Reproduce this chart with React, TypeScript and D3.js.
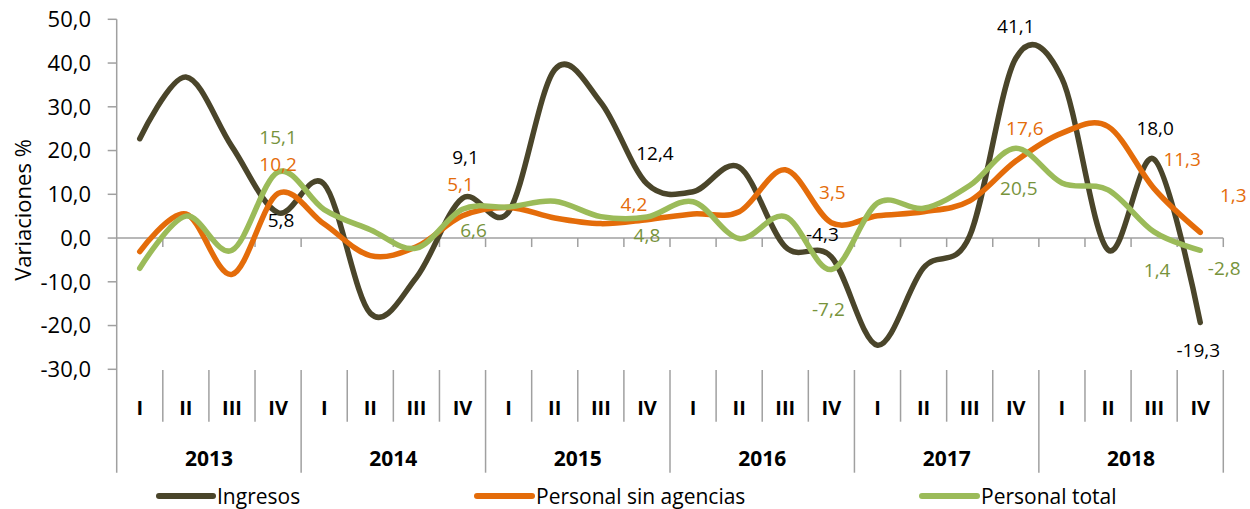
import React from "react";
import * as d3 from "d3";

const years = ["2013", "2014", "2015", "2016", "2017", "2018"];
const quarters = ["I", "II", "III", "IV"];
const yTicks = [-30, -20, -10, 0, 10, 20, 30, 40, 50];

const ingresos = [22.7, 36.8, 20.9, 5.8, 12.3, -17.2, -9.0, 9.1, 6.0, 38.5, 31.0, 12.4, 10.6, 16.2, -2.0, -4.3, -24.5, -6.8, 0.5, 41.1, 36.5, -2.7, 18.0, -19.3];
const personalSinAgencias = [-3.1, 5.5, -8.3, 10.2, 3.2, -4.0, -2.0, 5.1, 7.0, 4.6, 3.3, 4.2, 5.5, 6.0, 15.6, 3.5, 5.1, 6.0, 8.5, 17.6, 24.0, 25.5, 11.3, 1.3];
const personalTotal = [-6.9, 5.0, -2.8, 15.1, 6.5, 1.9, -2.3, 6.6, 7.1, 8.4, 4.9, 4.8, 8.3, -0.1, 4.9, -7.2, 8.0, 6.8, 12.0, 20.5, 12.6, 11.0, 1.4, -2.8];

const labeledIdx = [3, 7, 11, 15, 19, 22, 23];

// label offsets (px) from each labelled point, per series
const ingresosLabelOffsets = [[3, 7], [3, -41], [8, -31], [-9, -23], [0, -32], [1, -31], [-2, 28]];
const sinLabelOffsets = [[0, -29], [-2, -32], [-13, -16], [1, -31], [9, -33], [28, -29], [33, -37]];
const totalLabelOffsets = [[0, -35], [11, 21], [0, 18], [-3, 40], [3, 40], [3, 38], [24, 18]];

const series = [
  { name: "Ingresos", values: ingresos, color: "#4a452a", labelColor: "#000000", offsets: ingresosLabelOffsets },
  { name: "Personal sin agencias", values: personalSinAgencias, color: "#e46c0a", labelColor: "#e46c0a", offsets: sinLabelOffsets },
  { name: "Personal total", values: personalTotal, color: "#9bbb59", labelColor: "#77933c", offsets: totalLabelOffsets },
];

const legendPos = [
  { x1: 159, x2: 213 },
  { x1: 477, x2: 532 },
  { x1: 922, x2: 977 },
];

const locale = d3.formatLocale({ decimal: ",", thousands: ".", grouping: [3], currency: ["", "€"], minus: "-" });
const fmt = locale.format(".1f");

const W = 1250;
const H = 509;
const FONT = "'Open Sans', Lato, sans-serif";
const AXIS = "#a0a0a0";

export default function App() {
  const n = ingresos.length;
  const idx = d3.range(n);
  const x = d3.scaleBand<number>().domain(idx).range([116.7, 1223.3]).padding(0);
  const bw = x.bandwidth();
  const cx = (i: number) => (x(i) as number) + bw / 2;
  const y = d3.scaleLinear().domain([-30, 50]).range([369.3, 19.3]);

  const line = d3
    .line<number>()
    .x((_, i) => cx(i))
    .y((d) => y(d))
    .curve(d3.curveCatmullRom.alpha(0));

  const x0 = 116.7;
  const x1 = 1223.3;
  const catTop = 370;
  const qBottom = 421.7;
  const yBottom = 472.7;

  return (
    <svg width={W} height={H} style={{ position: "absolute", left: 0, top: 0, background: "#fff" }} fontFamily={FONT}>
      {/* y axis */}
      <line x1={x0} x2={x0} y1={y(50)} y2={yBottom} stroke={AXIS} strokeWidth={1.5} />
      {yTicks.map((t) => (
        <g key={t}>
          <line x1={x0 - 9} x2={x0} y1={y(t)} y2={y(t)} stroke={AXIS} strokeWidth={1.5} />
          <text x={91} y={y(t)} dy="0.36em" textAnchor="end" fontSize={22} fill="#000">
            {fmt(t)}
          </text>
        </g>
      ))}
      <text transform={`translate(31,210) rotate(-90)`} textAnchor="middle" fontSize={22} fill="#000">
        Variaciones %
      </text>

      {/* zero line with ticks */}
      <line x1={x0} x2={x1} y1={y(0)} y2={y(0)} stroke={AXIS} strokeWidth={1.5} />
      {d3.range(1, n + 1).map((k) => (
        <line key={k} x1={x0 + k * bw} x2={x0 + k * bw} y1={y(0)} y2={y(0) + 9} stroke={AXIS} strokeWidth={1.5} />
      ))}

      {/* category axis separators */}
      {d3.range(1, n + 1).map((k) => (
        <line
          key={"s" + k}
          x1={x0 + k * bw}
          x2={x0 + k * bw}
          y1={catTop}
          y2={k % 4 === 0 ? yBottom : qBottom}
          stroke={AXIS}
          strokeWidth={1.5}
        />
      ))}
      {idx.map((i) => (
        <text key={"q" + i} x={cx(i)} y={408} dy="0.36em" textAnchor="middle" fontSize={20} fontWeight="bold" fill="#000">
          {quarters[i % 4]}
        </text>
      ))}
      {years.map((yr, j) => (
        <text key={yr} x={x0 + (j * 4 + 2) * bw} y={458} dy="0.36em" textAnchor="middle" fontSize={21} fontWeight="bold" fill="#000">
          {yr}
        </text>
      ))}

      {/* lines */}
      {series.map((s) => (
        <path key={s.name} d={line(s.values) || ""} fill="none" stroke={s.color} strokeWidth={5.5} strokeLinecap="round" strokeLinejoin="round" />
      ))}

      {/* data labels */}
      {series.map((s) =>
        labeledIdx.map((i, j) => (
          <text
            key={s.name + i}
            x={cx(i) + s.offsets[j][0]}
            y={y(s.values[i]) + s.offsets[j][1]}
            dy="0.36em"
            textAnchor="middle"
            fontSize={19}
            fill={s.labelColor}
          >
            {fmt(s.values[i])}
          </text>
        ))
      )}

      {/* legend */}
      {series.map((s, k) => (
        <g key={"lg" + s.name}>
          <line x1={legendPos[k].x1} x2={legendPos[k].x2} y1={496} y2={496} stroke={s.color} strokeWidth={6} strokeLinecap="round" />
          <text x={legendPos[k].x2 + 4} y={496} dy="0.36em" fontSize={21} fill="#000">
            {s.name}
          </text>
        </g>
      ))}
    </svg>
  );
}
